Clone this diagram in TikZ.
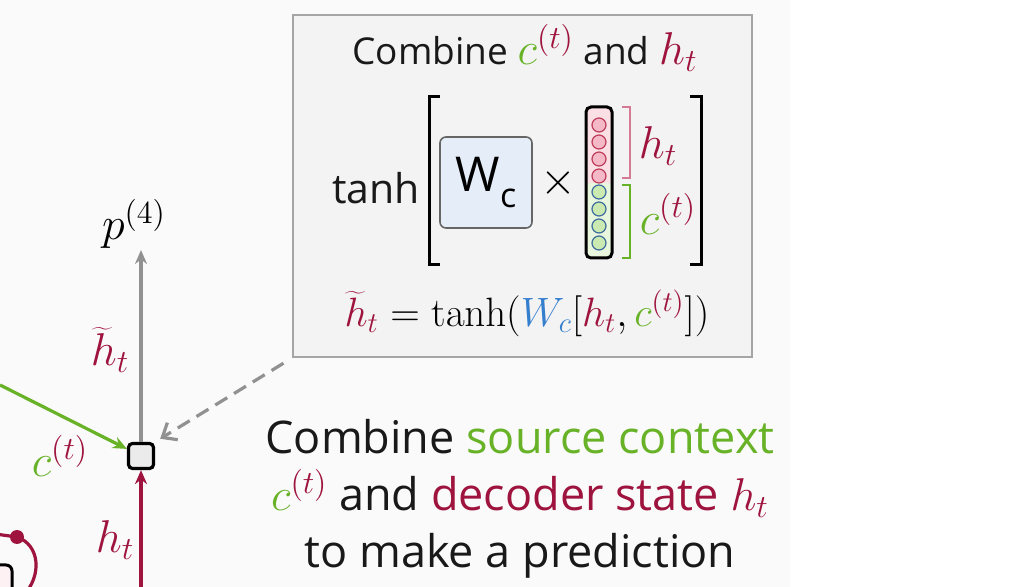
\RequirePackage{fix-cm}
\documentclass[tikz,border=0pt]{standalone}
\usepackage[no-math]{fontspec}
\setmainfont{Open Sans}
\usetikzlibrary{positioning,arrows.meta}
\definecolor{DecRed}{RGB}{158,20,62}
\definecolor{CtxGreen}{RGB}{104,178,40}
\definecolor{WBlue}{RGB}{52,126,206}
\definecolor{PanelGray}{RGB}{243,243,243}
\definecolor{EdgeGray}{RGB}{165,165,165}
\definecolor{ArrowGray}{RGB}{145,145,145}
\definecolor{PinkFill}{RGB}{244,184,198}
\definecolor{PinkEdge}{RGB}{190,60,90}
\definecolor{LimeFill}{RGB}{202,234,178}
\definecolor{LimeEdge}{RGB}{62,108,158}
\definecolor{PinkBar}{RGB}{212,122,148}
\definecolor{WFill}{RGB}{229,237,248}
\newcommand{\ctxvec}{{\color{CtxGreen}c}^{\color{DecRed}(t)}}
\newcommand{\hdec}{{\color{DecRed}h_t}}
\newcommand{\bigmath}[1]{{\fontsize{23}{26}\selectfont$#1$}}

\begin{document}
\begin{tikzpicture}[x=0.5pt,y=-0.5pt,
panel/.style={draw=EdgeGray, line width=1pt, fill=PanelGray,
minimum width=229.5pt, minimum height=171pt},
combo/.style={draw=black, line width=1.6pt, fill=black!8, rounded corners=2pt,
minimum size=12.5pt, inner sep=0pt},
big/.style={font=\fontsize{22.5}{28.5}\selectfont, text=black!90},
mid/.style={font=\fontsize{18.5}{24}\selectfont, text=black!90},
hdot/.style={circle, draw=PinkEdge, fill=PinkFill, line width=0.6pt, minimum size=7pt, inner sep=0pt},
cdot/.style={circle, draw=LimeEdge, fill=LimeFill, line width=0.6pt, minimum size=7pt, inner sep=0pt},
line/.style={line width=1.6pt, -{Stealth[length=7pt,width=6pt]}}]
\useasboundingbox (0,0) rectangle (1024,587);
\fill[white] (0,0) rectangle (1024,587);
\fill[black!2] (0,0) rectangle (790,587);

% panel with the combination
\node[panel] (panel) at (522.5,186) {};
\node[mid] (title) at (525,48) {Combine \bigmath{\ctxvec} and \bigmath{\hdec}};
\node[font=\fontsize{20.5}{24}\selectfont, text=black!90] (tanh) at (376,188) {tanh};
\draw[line width=1.5pt] (440,97) -- (429,97) -- (429,265) -- (440,265);
\draw[line width=1.5pt] (690,97) -- (701,97) -- (701,265) -- (690,265);
\node[draw=black!60, line width=0.8pt, fill=WFill, rounded corners=3pt,
minimum width=46pt, minimum height=45.5pt, font=\fontsize{24}{26}\selectfont] (wc) at (486,182.5)
{W\raisebox{-0.6ex}{\fontsize{17}{18}\selectfont c}};
\node (times) at (558,183) {\bigmath{\times}};
\fill[PinkFill!45, rounded corners=2pt] (586,107) rectangle (612,190);
\fill[LimeFill!45, rounded corners=2pt] (586,183) rectangle (612,258);
\node[draw=black, line width=1.5pt, rounded corners=2.5pt, minimum width=13pt,
minimum height=75.5pt] (vec) at (599,182.5) {};
\foreach \y in {125,142,159,176} \node[hdot] at (599,\y) {};
\foreach \y in {192,209,226,243} \node[cdot] at (599,\y) {};
\draw[PinkBar, line width=1.2pt] (622,107) -- (630,107) -- (630,178) -- (622,178);
\draw[CtxGreen, line width=1.2pt] (622,185) -- (630,185) -- (630,258) -- (622,258);
\node (hlab) at (658,146) {\bigmath{\hdec}};
\node (clab) at (668,214) {\bigmath{\ctxvec}};
\node[font=\fontsize{20.5}{24}\selectfont] (formula) at (527,313)
{${\color{DecRed}\widetilde{h}_t} = \tanh({\color{WBlue}W_c}[\hdec, \ctxvec])$};

% decoder step
\node[combo] (comb) at (141,456) {};
\node (p4) at (134,224) {\bigmath{p^{(4)}}};
\coordinate (ctxin) at (0,385);
\coordinate (hin) at (141,600);
\draw[line, ArrowGray] (comb) -- (141,250);
\draw[line, CtxGreen] (ctxin) -- (comb);
\draw[line, DecRed] (hin) -- (comb);
\draw[ArrowGray, line width=1.6pt, dashed, dash pattern=on 7pt off 4pt,
-{Straight Barb[length=6pt,width=10pt]}, shorten <=5pt, shorten >=3pt] (panel.south west) -- (comb.north east);
\node (htil) at (110,350) {\bigmath{{\color{DecRed}\widetilde{h}_t}}};
\node (clow) at (60,456) {\bigmath{\ctxvec}};
\node (hlow) at (115,540) {\bigmath{\hdec}};

% loop of the previous step, cut by the edge
\begin{scope}
\clip (0,0) rectangle (1024,587);
\draw[line width=1.5pt, fill=PinkFill!20, rounded corners=3pt] (-30,565) rectangle (12,620);
\draw[DecRed, line width=1.6pt] (-5,534) -- (17,537) .. controls (40,545) and (42,575) .. (24,595);
\fill[DecRed] (17,537) circle (3.5pt);
\end{scope}

% caption
\node[big, align=center] (caption) at (520,499)
{Combine \textcolor{CtxGreen}{source context}\\
\bigmath{\ctxvec} and \textcolor{DecRed}{decoder state} \bigmath{\hdec}\\
to make a prediction};
\end{tikzpicture}
\end{document}
